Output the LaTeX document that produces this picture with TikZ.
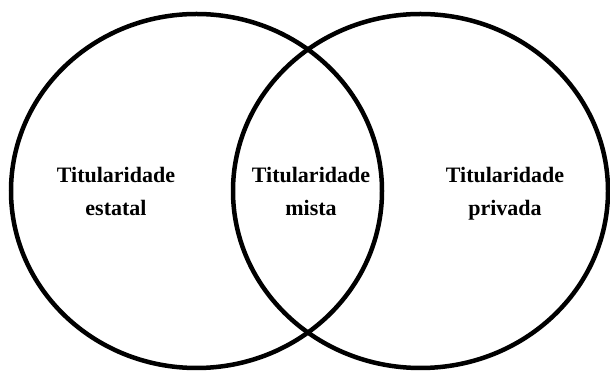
\documentclass[tikz,border=0pt]{standalone}
\usepackage{fontspec}
\setmainfont{Liberation Serif}
\usetikzlibrary{shapes.geometric}
\tikzset{
  conj/.style={
    draw=black, line width=4.5pt, ellipse, inner sep=0pt
  },
  rot/.style={
    align=center, inner sep=0pt,
    font=\fontsize{22}{33}\selectfont\bfseries
  }
}
\begin{document}
\begin{tikzpicture}[x=1pt, y=1pt]
  \useasboundingbox (0,0) rectangle (610,371);
  \node[conj, minimum width=371pt, minimum height=354pt] (estatal) at (196.5,180) {};
  \node[conj, minimum width=375pt, minimum height=354pt] (privada) at (420.5,180) {};
  \node[rot] (lblest) at (116,180) {Titularidade\\estatal};
  \node[rot] (lblmis) at (311,180) {Titularidade\\mista};
  \node[rot] (lblpri) at (505,177.5) {Titularidade\\privada};
\end{tikzpicture}
\end{document}
